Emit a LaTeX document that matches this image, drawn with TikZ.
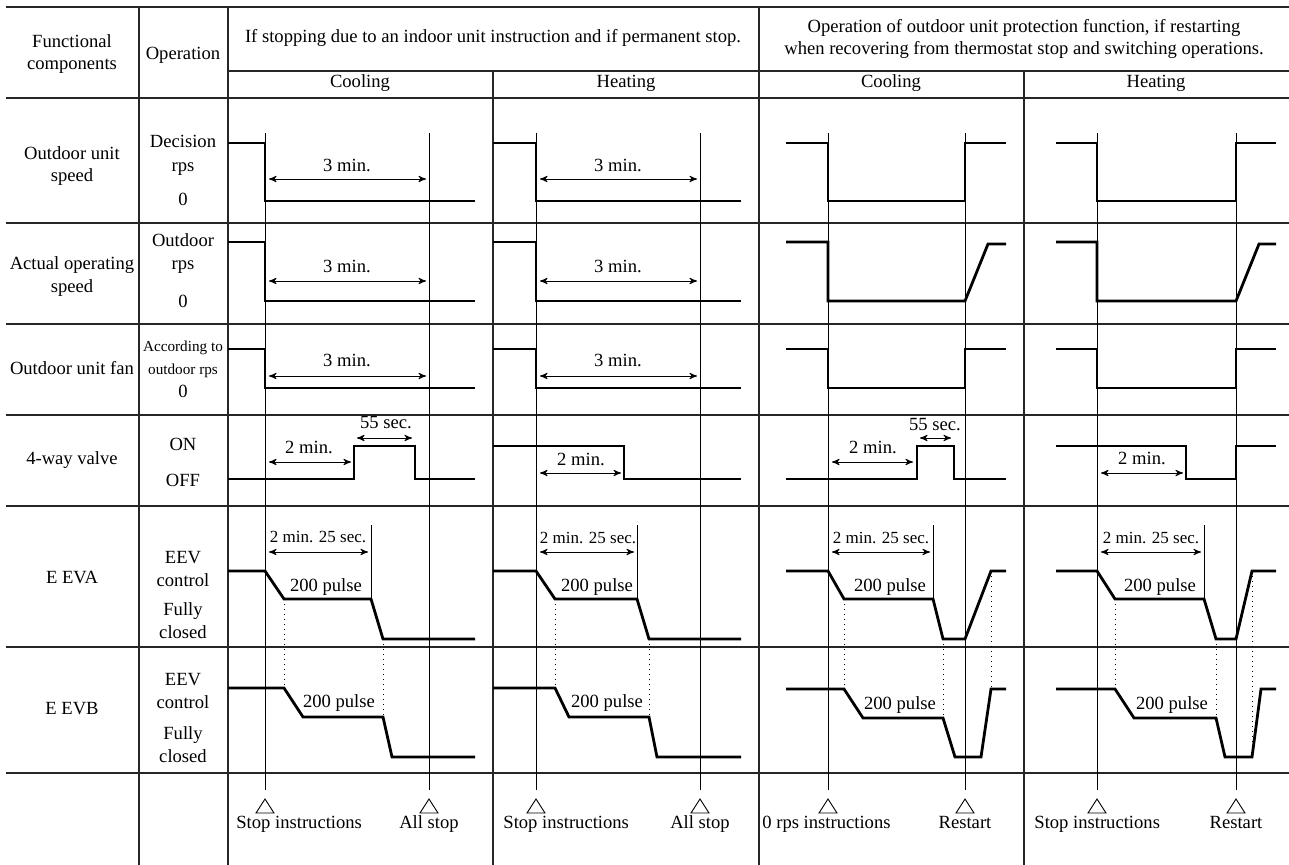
\documentclass[tikz,border=0pt]{standalone}
\usepackage{fontspec}
\setmainfont{Liberation Serif}
\usetikzlibrary{arrows}

\begin{document}
\begin{tikzpicture}[>=stealth', x=0.5pt, y=-0.5pt,
    every node/.style={font=\fontsize{9.3}{11}\selectfont, inner sep=0pt, text height=6.5pt, text depth=2pt},
    tabline/.style={line width=0.6pt, black!85},
    tline/.style={line width=0.45pt},
    wave/.style={line width=1.4pt, line join=miter},
    dimarrow/.style={<->, line width=0.45pt},
    dotguide/.style={dotted, line width=0.5pt},
    smalltext/.style={font=\fontsize{7.6}{9}\selectfont, text height=5.3pt, text depth=1.6pt},
    dimtext/.style={font=\fontsize{8.5}{10}\selectfont}]
    \useasboundingbox (0,0) rectangle (1289,865);
    \foreach \y in {7,98,223,324,415,506,647,773}
        \draw[tabline] (6,\y) -- (1289,\y);
    \draw[tabline] (228,71) -- (1289,71);
    \foreach \x in {139,228,759}
        \draw[tabline] (\x,7) -- (\x,865);
    \foreach \x in {493,1024}
        \draw[tabline] (\x,71) -- (\x,865);
    \foreach \x in {265,429,536,700,828,965,1097,1236} {
        \draw[tline] (\x,133) -- (\x,790);
        \draw[tline] (\x-9,813) -- (\x,799) -- (\x+9,813) -- cycle;
    }

    \node (func) at (72,43) {Functional};
    \node (funcb) at (72,65) {components};
    \node (oper) at (183,55) {Operation};
    \node (stopcase) at (493,38) {If stopping due to an indoor unit instruction and if permanent stop.};
    \node (restartcase) at (1024,28) {Operation of outdoor unit protection function, if restarting};
    \node (restartcaseb) at (1024,50) {when recovering from thermostat stop and switching operations.};
    \node (cool1) at (360,83) {Cooling};
    \node (heat1) at (626,83) {Heating};
    \node (cool2) at (891,83) {Cooling};
    \node (heat2) at (1156,83) {Heating};

    \node (fspeed) at (72,155) {Outdoor unit};
    \node (fspeedb) at (72,177) {speed};
    \node (fact) at (72,265) {Actual operating};
    \node (factb) at (72,288) {speed};
    \node (ffan) at (72,370) {Outdoor unit fan};
    \node (fvalve) at (72,460) {4-way valve};
    \node (feva) at (72,579) {E EVA};
    \node (fevb) at (72,710) {E EVB};

    \node (odec) at (183,143) {Decision};
    \node (orps) at (183,167) {rps};
    \node (ozero) at (183,201) {0};
    \node (oout) at (183,242) {Outdoor};
    \node (orpsb) at (183,265) {rps};
    \node (ozerob) at (183,303) {0};
    \node[smalltext] (oacc) at (183,348) {According to};
    \node[smalltext] (ooutrps) at (183,371) {outdoor rps};
    \node (ozeroc) at (183,393) {0};
    \node (oon) at (183,446) {ON};
    \node (ooff) at (183,482) {OFF};
    \node (oeeva) at (183,559) {EEV};
    \node (octrla) at (183,582) {control};
    \node (ofullya) at (183,611) {Fully};
    \node (oclosa) at (183,634) {closed};
    \node (oeevb) at (183,681) {EEV};
    \node (octrlb) at (183,704) {control};
    \node (ofullyb) at (183,735) {Fully};
    \node (oclosb) at (183,758) {closed};

    \draw[wave] (228,143) -- (265,143) -- (265,201) -- (475,201);
    \draw[dimarrow] (269,179) -- (426,179);
    \node (cspeed) at (347,167) {3 min.};
    \draw[wave] (228,242) -- (265,242) -- (265,301) -- (475,301);
    \draw[dimarrow] (269,281) -- (426,281);
    \node (cact) at (347,268) {3 min.};
    \draw[wave] (228,349) -- (265,349) -- (265,388) -- (475,388);
    \draw[dimarrow] (269,376) -- (426,376);
    \node (cfan) at (347,362) {3 min.};
    \draw[wave] (228,479) -- (354,479) -- (354,446) -- (415,446) -- (415,479) -- (475,479);
    \draw[dimarrow] (269,462) -- (351,462);
    \node (cvalve) at (309,449) {2 min.};
    \draw[dimarrow] (357,438) -- (412,438);
    \node (cvalveon) at (386,424) {55 sec.};
    \draw[wave] (228,571) -- (265,571) -- (284,599) -- (371,599) -- (383,639) -- (475,639);
    \draw[tline] (371,525) -- (371,599);
    \draw[dimarrow] (269,552) -- (368,552);
    \node[dimtext] (ceva) at (318,538) {2 min. 25 sec.};
    \node (cevapulse) at (326,587) {200 pulse};
    \draw[wave] (228,688) -- (284,688) -- (303,717) -- (383,717) -- (392,757) -- (475,757);
    \node (cevbpulse) at (339,703) {200 pulse};
    \draw[dotguide] (284,599) -- (284,688);
    \draw[dotguide] (383,639) -- (383,717);
    \node[anchor=west] (cstop) at (236,824) {Stop instructions};
    \node (callstop) at (429,824) {All stop};

    \draw[wave] (493,143) -- (536,143) -- (536,201) -- (741,201);
    \draw[dimarrow] (540,179) -- (697,179);
    \node (hspeed) at (618,167) {3 min.};
    \draw[wave] (493,242) -- (536,242) -- (536,301) -- (741,301);
    \draw[dimarrow] (540,281) -- (697,281);
    \node (hact) at (618,268) {3 min.};
    \draw[wave] (493,349) -- (536,349) -- (536,388) -- (741,388);
    \draw[dimarrow] (540,376) -- (697,376);
    \node (hfan) at (618,362) {3 min.};
    \draw[wave] (493,446) -- (624,446) -- (624,479) -- (741,479);
    \draw[dimarrow] (540,473) -- (621,473);
    \node (hvalve) at (581,461) {2 min.};
    \draw[wave] (493,571) -- (536,571) -- (555,599) -- (637,599) -- (649,639) -- (741,639);
    \draw[tline] (637,525) -- (637,599);
    \draw[dimarrow] (540,552) -- (634,552);
    \node[dimtext] (heva) at (588,539) {2 min. 25 sec.};
    \node (hevapulse) at (597,587) {200 pulse};
    \draw[wave] (493,688) -- (555,688) -- (569,717) -- (649,717) -- (657,757) -- (741,757);
    \node (hevbpulse) at (607,703) {200 pulse};
    \draw[dotguide] (555,599) -- (555,688);
    \draw[dotguide] (649,639) -- (649,717);
    \node[anchor=west] (hstop) at (503,824) {Stop instructions};
    \node (hallstop) at (700,824) {All stop};

    \draw[wave] (786,143) -- (828,143) -- (828,201) -- (965,201) -- (965,143) -- (1006,143);
    \draw[wave] (786,242) -- (828,242) -- (828,301) -- (965,301) -- (988,244) -- (1006,244);
    \draw[wave] (786,349) -- (828,349) -- (828,388) -- (965,388) -- (965,349) -- (1006,349);
    \draw[wave] (786,479) -- (917,479) -- (917,446) -- (954,446) -- (954,479) -- (1006,479);
    \draw[dimarrow] (832,462) -- (913,462);
    \node (rcvalve) at (873,449) {2 min.};
    \draw[dimarrow] (920,438) -- (951,438);
    \node (rcvalveon) at (935,426) {55 sec.};
    \draw[wave] (786,571) -- (828,571) -- (844,599) -- (933,599) -- (943,639) -- (965,639) -- (991,571) -- (1006,571);
    \draw[tline] (933,525) -- (933,599);
    \draw[dimarrow] (832,552) -- (930,552);
    \node[dimtext] (rceva) at (881,539) {2 min. 25 sec.};
    \node (rcevapulse) at (890,587) {200 pulse};
    \draw[wave] (786,689) -- (844,689) -- (863,718) -- (943,718) -- (955,757) -- (981,757) -- (991,689) -- (1006,689);
    \node (rcevbpulse) at (900,705) {200 pulse};
    \draw[dotguide] (844,599) -- (844,689);
    \draw[dotguide] (943,639) -- (943,718);
    \draw[dotguide] (991,571) -- (991,689);
    \node[anchor=west] (rcstop) at (762,824) {0 rps instructions};
    \node (rcrestart) at (965,824) {Restart};

    \draw[wave] (1056,143) -- (1097,143) -- (1097,201) -- (1236,201) -- (1236,143) -- (1276,143);
    \draw[wave] (1056,242) -- (1097,242) -- (1097,301) -- (1236,301) -- (1259,244) -- (1276,244);
    \draw[wave] (1056,349) -- (1097,349) -- (1097,388) -- (1236,388) -- (1236,349) -- (1276,349);
    \draw[wave] (1056,446) -- (1186,446) -- (1186,479) -- (1236,479) -- (1236,446) -- (1276,446);
    \draw[dimarrow] (1101,473) -- (1183,473);
    \node (rhvalve) at (1142,460) {2 min.};
    \draw[wave] (1056,571) -- (1097,571) -- (1115,599) -- (1204,599) -- (1216,639) -- (1236,639) -- (1252,571) -- (1276,571);
    \draw[tline] (1204,525) -- (1204,599);
    \draw[dimarrow] (1101,552) -- (1201,552);
    \node[dimtext] (rheva) at (1151,539) {2 min. 25 sec.};
    \node (rhevapulse) at (1160,587) {200 pulse};
    \draw[wave] (1056,689) -- (1115,689) -- (1134,718) -- (1216,718) -- (1225,757) -- (1252,757) -- (1261,689) -- (1276,689);
    \node (rhevbpulse) at (1172,705) {200 pulse};
    \draw[dotguide] (1115,599) -- (1115,689);
    \draw[dotguide] (1216,639) -- (1216,718);
    \draw[dotguide] (1252,571) -- (1252,757);
    \node[anchor=west] (rhstop) at (1034,824) {Stop instructions};
    \node (rhrestart) at (1236,824) {Restart};
\end{tikzpicture}
\end{document}
